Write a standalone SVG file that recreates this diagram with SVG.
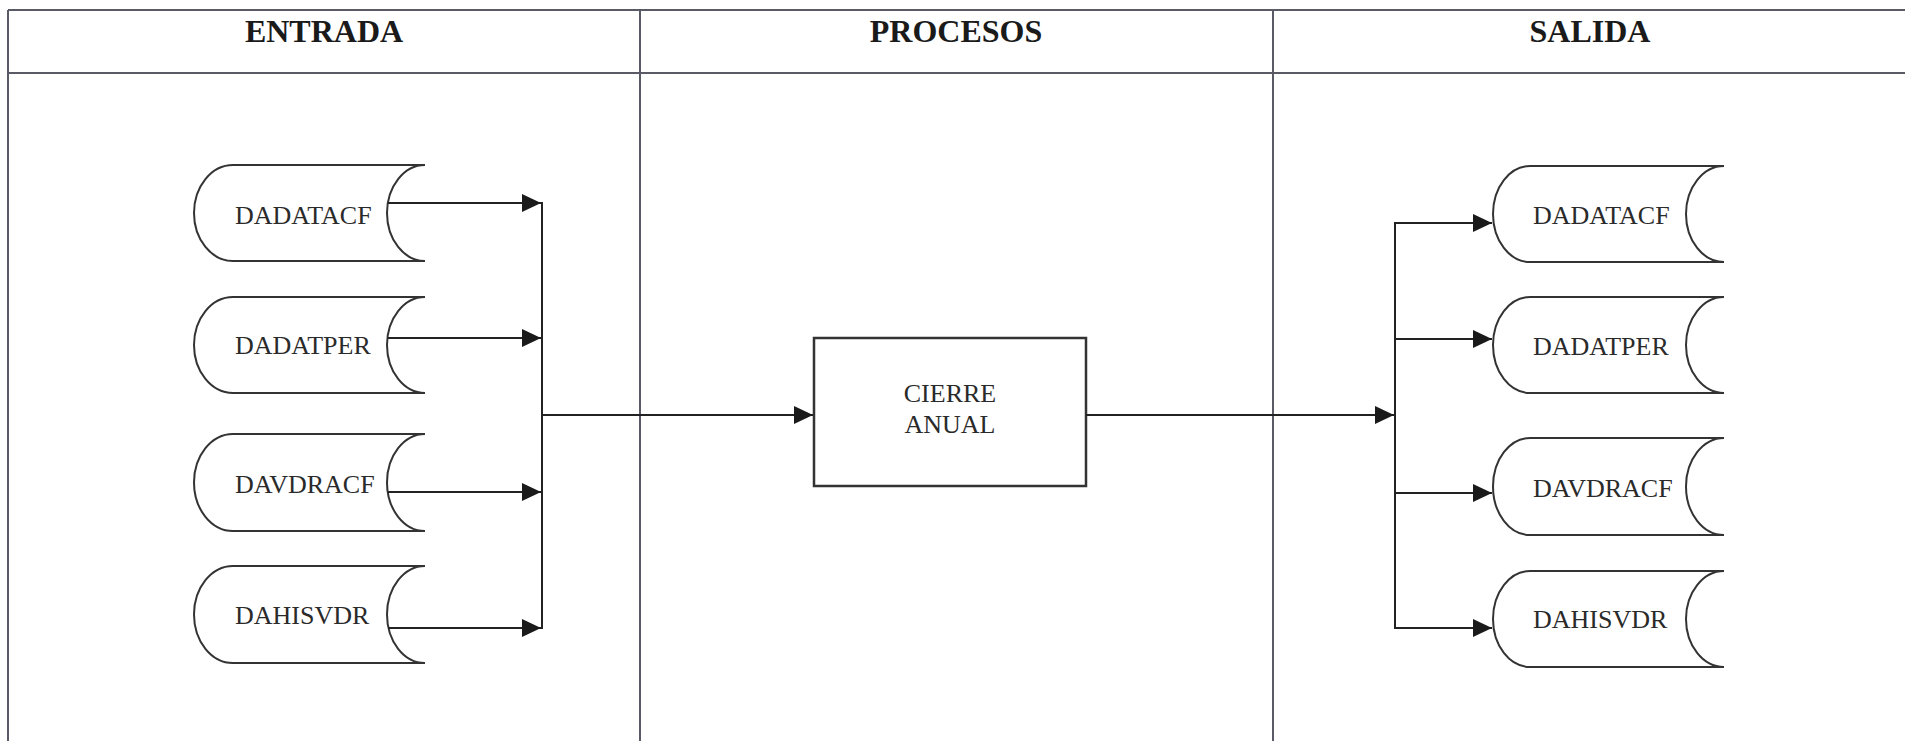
<svg xmlns="http://www.w3.org/2000/svg" width="1905" height="741" viewBox="0 0 1905 741">
<style>
.grid{stroke:#5a5a66;stroke-width:2;fill:none}
.hdr{font-family:"Liberation Serif","Times New Roman",serif;font-weight:bold;font-size:32px;fill:#1a1a1a;text-anchor:middle}
.lbl{font-family:"Liberation Serif","Times New Roman",serif;font-size:26px;fill:#2a2a2a}
.store{fill:#ffffff;stroke:#333333;stroke-width:2}
.box{fill:#ffffff;stroke:#333333;stroke-width:2.5}
.conn{fill:none;stroke:#222222;stroke-width:2}
</style>
<defs>
<marker id="arr" markerUnits="userSpaceOnUse" markerWidth="20" markerHeight="18" refX="19" refY="9" orient="auto">
<path d="M0,0 L19,9 L0,18 Z" fill="#1a1a1a"/>
</marker>
</defs>
<rect width="1905" height="741" fill="#ffffff"/>
<g id="table">
<line class="grid" x1="8" y1="10" x2="1905" y2="10"/>
<line class="grid" x1="8" y1="73" x2="1905" y2="73"/>
<line class="grid" x1="8" y1="10" x2="8" y2="741"/>
<line class="grid" x1="640" y1="10" x2="640" y2="741"/>
<line class="grid" x1="1273" y1="10" x2="1273" y2="741"/>
<text class="hdr" x="324" y="42">ENTRADA</text>
<text class="hdr" x="956" y="42">PROCESOS</text>
<text class="hdr" x="1590" y="42">SALIDA</text>
</g>
<g id="in1">
<path class="store" d="M233,165 L425,165 A38,48 0 0 0 425,261 L233,261 A39,48 0 0 1 233,165 Z"/>
<text class="lbl" x="235" y="224">DADATACF</text>
</g>
<g id="in2">
<path class="store" d="M233,297 L425,297 A38,48 0 0 0 425,393 L233,393 A39,48 0 0 1 233,297 Z"/>
<text class="lbl" x="235" y="354">DADATPER</text>
</g>
<g id="in3">
<path class="store" d="M233,434 L425,434 A38,48.5 0 0 0 425,531 L233,531 A39,48.5 0 0 1 233,434 Z"/>
<text class="lbl" x="235" y="493">DAVDRACF</text>
</g>
<g id="in4">
<path class="store" d="M233,566 L425,566 A38,48.5 0 0 0 425,663 L233,663 A39,48.5 0 0 1 233,566 Z"/>
<text class="lbl" x="235" y="624">DAHISVDR</text>
</g>
<g id="proc">
<rect class="box" x="814" y="338" width="272" height="148"/>
<text class="lbl" x="950" y="402" text-anchor="middle">CIERRE</text>
<text class="lbl" x="950" y="433" text-anchor="middle">ANUAL</text>
</g>
<g id="out1">
<path class="store" d="M1530,166 L1724,166 A38,48 0 0 0 1724,262 L1530,262 A37,48 0 0 1 1530,166 Z"/>
<text class="lbl" x="1533" y="224">DADATACF</text>
</g>
<g id="out2">
<path class="store" d="M1530,297 L1724,297 A38,48 0 0 0 1724,393 L1530,393 A37,48 0 0 1 1530,297 Z"/>
<text class="lbl" x="1533" y="355">DADATPER</text>
</g>
<g id="out3">
<path class="store" d="M1530,438 L1724,438 A38,48.5 0 0 0 1724,535 L1530,535 A37,48.5 0 0 1 1530,438 Z"/>
<text class="lbl" x="1533" y="497">DAVDRACF</text>
</g>
<g id="out4">
<path class="store" d="M1530,571 L1724,571 A38,48 0 0 0 1724,667 L1530,667 A37,48 0 0 1 1530,571 Z"/>
<text class="lbl" x="1533" y="628">DAHISVDR</text>
</g>
<g id="connectors">
<line class="conn" x1="388" y1="203" x2="541" y2="203" marker-end="url(#arr)"/>
<line class="conn" x1="388" y1="338" x2="541" y2="338" marker-end="url(#arr)"/>
<line class="conn" x1="388" y1="492" x2="541" y2="492" marker-end="url(#arr)"/>
<line class="conn" x1="388" y1="628" x2="541" y2="628" marker-end="url(#arr)"/>
<line class="conn" x1="542" y1="202" x2="542" y2="629"/>
<line class="conn" x1="542" y1="415" x2="813" y2="415" marker-end="url(#arr)"/>
<line class="conn" x1="1086" y1="415" x2="1394" y2="415" marker-end="url(#arr)"/>
<line class="conn" x1="1395" y1="222" x2="1395" y2="629"/>
<line class="conn" x1="1395" y1="223" x2="1492" y2="223" marker-end="url(#arr)"/>
<line class="conn" x1="1395" y1="339" x2="1492" y2="339" marker-end="url(#arr)"/>
<line class="conn" x1="1395" y1="493" x2="1492" y2="493" marker-end="url(#arr)"/>
<line class="conn" x1="1395" y1="628" x2="1492" y2="628" marker-end="url(#arr)"/>
</g>
</svg>
